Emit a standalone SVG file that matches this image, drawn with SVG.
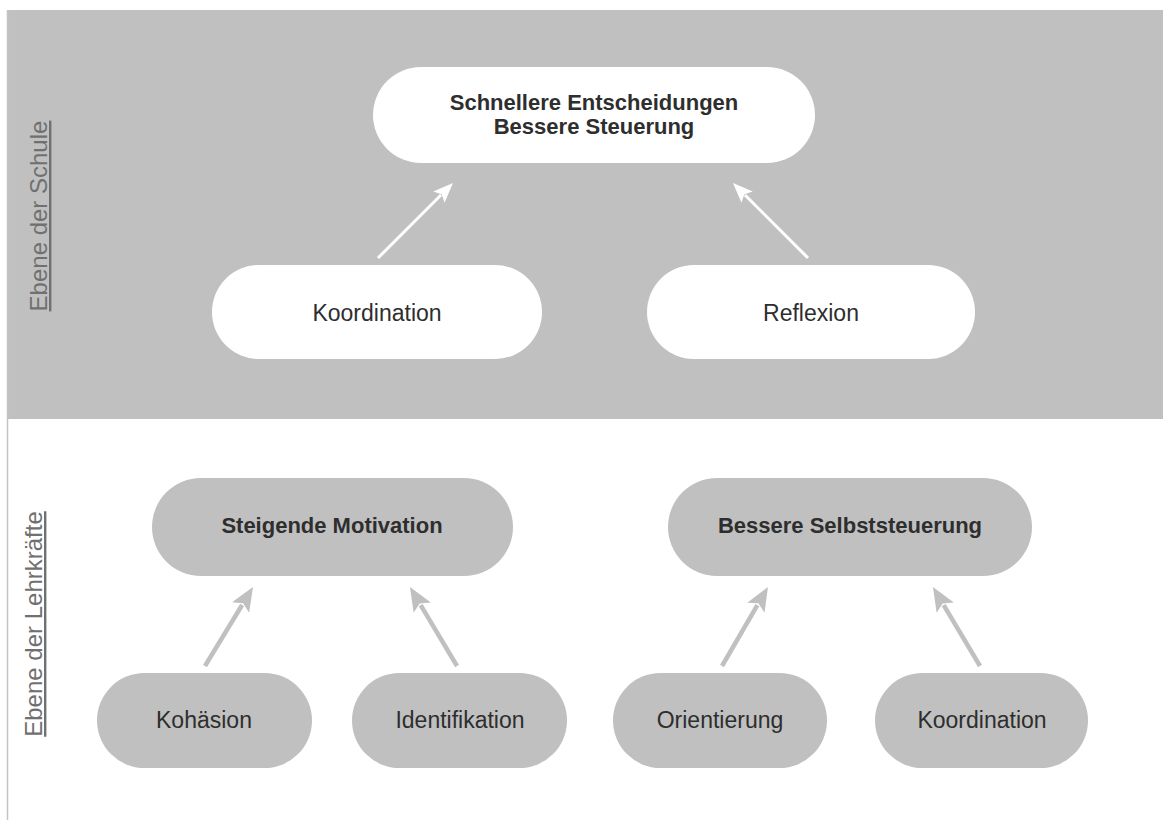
<svg xmlns="http://www.w3.org/2000/svg" width="1163" height="820" viewBox="0 0 1163 820">
  <style>
    .pill-w { fill: #ffffff; }
    .pill-g { fill: #c0c0c0; }
    .t { font-family: "Liberation Sans", Arial, sans-serif; font-size: 23px; fill: #2e2e2e; text-anchor: middle; }
    .tb { font-family: "Liberation Sans", Arial, sans-serif; font-size: 22px; font-weight: bold; fill: #2e2e2e; text-anchor: middle; }
    .lbl { font-family: "Liberation Sans", Arial, sans-serif; font-size: 24px; fill: #707070; text-anchor: middle; text-decoration: underline; }
    .cw { stroke: #ffffff; stroke-width: 3; fill: none; }
    .cg { stroke: #c0c0c0; stroke-width: 4.5; fill: none; }
  </style>
  <defs>
    <marker id="hw" viewBox="0 0 20 16" refX="3" refY="8" markerWidth="20" markerHeight="16" markerUnits="userSpaceOnUse" orient="auto">
      <path d="M0,0 L20,8 L0,16 L4,8 z" fill="#ffffff"/>
    </marker>
    <marker id="hg" viewBox="0 0 24 20" refX="3" refY="10" markerWidth="24" markerHeight="20" markerUnits="userSpaceOnUse" orient="auto">
      <path d="M0,0 L24,10 L0,20 L5,10 z" fill="#c0c0c0"/>
    </marker>
  </defs>

  <rect x="0" y="0" width="1163" height="820" fill="#ffffff"/>
  <rect id="panel-schule" x="7" y="10" width="1156" height="409" fill="#c0c0c0"/>
  <line x1="7.5" y1="10" x2="7.5" y2="820" stroke="#c4c4c4" stroke-width="1.5"/>

  <g id="label-schule">
    <text class="lbl" transform="translate(47,216) rotate(-90)">Ebene der Schule</text>
  </g>
  <g id="label-lehrkraefte">
    <text class="lbl" transform="translate(42,624) rotate(-90)">Ebene der Lehrkräfte</text>
  </g>

  <g id="connectors">
    <line class="cw" x1="378" y1="258" x2="441" y2="195" marker-end="url(#hw)"/>
    <line class="cw" x1="808" y1="258" x2="745" y2="195" marker-end="url(#hw)"/>
    <line class="cg" x1="205" y1="666" x2="242.1" y2="605" marker-end="url(#hg)"/>
    <line class="cg" x1="457" y1="666" x2="420.7" y2="605.1" marker-end="url(#hg)"/>
    <line class="cg" x1="722" y1="666" x2="757.4" y2="605.1" marker-end="url(#hg)"/>
    <line class="cg" x1="980" y1="666" x2="943.7" y2="605.1" marker-end="url(#hg)"/>
  </g>

  <g id="node-entscheidungen">
    <rect class="pill-w" x="373" y="67" width="442" height="96" rx="48"/>
    <text class="tb" x="594" y="110">Schnellere Entscheidungen</text>
    <text class="tb" x="594" y="134">Bessere Steuerung</text>
  </g>
  <g id="node-koordination-schule">
    <rect class="pill-w" x="212" y="265" width="330" height="94" rx="47"/>
    <text class="t" x="377" y="321">Koordination</text>
  </g>
  <g id="node-reflexion">
    <rect class="pill-w" x="647" y="265" width="328" height="94" rx="47"/>
    <text class="t" x="811" y="321">Reflexion</text>
  </g>
  <g id="node-motivation">
    <rect class="pill-g" x="152" y="478" width="361" height="98" rx="49"/>
    <text class="tb" x="332" y="533">Steigende Motivation</text>
  </g>
  <g id="node-selbststeuerung">
    <rect class="pill-g" x="668" y="478" width="364" height="98" rx="49"/>
    <text class="tb" x="850" y="533">Bessere Selbststeuerung</text>
  </g>
  <g id="node-kohaesion">
    <rect class="pill-g" x="97" y="673" width="215" height="95" rx="47.5"/>
    <text class="t" x="204" y="728">Kohäsion</text>
  </g>
  <g id="node-identifikation">
    <rect class="pill-g" x="352" y="673" width="215" height="95" rx="47.5"/>
    <text class="t" x="460" y="728">Identifikation</text>
  </g>
  <g id="node-orientierung">
    <rect class="pill-g" x="613" y="673" width="214" height="95" rx="47.5"/>
    <text class="t" x="720" y="728">Orientierung</text>
  </g>
  <g id="node-koordination-lehrkraefte">
    <rect class="pill-g" x="875" y="673" width="213" height="95" rx="47.5"/>
    <text class="t" x="982" y="728">Koordination</text>
  </g>
</svg>
